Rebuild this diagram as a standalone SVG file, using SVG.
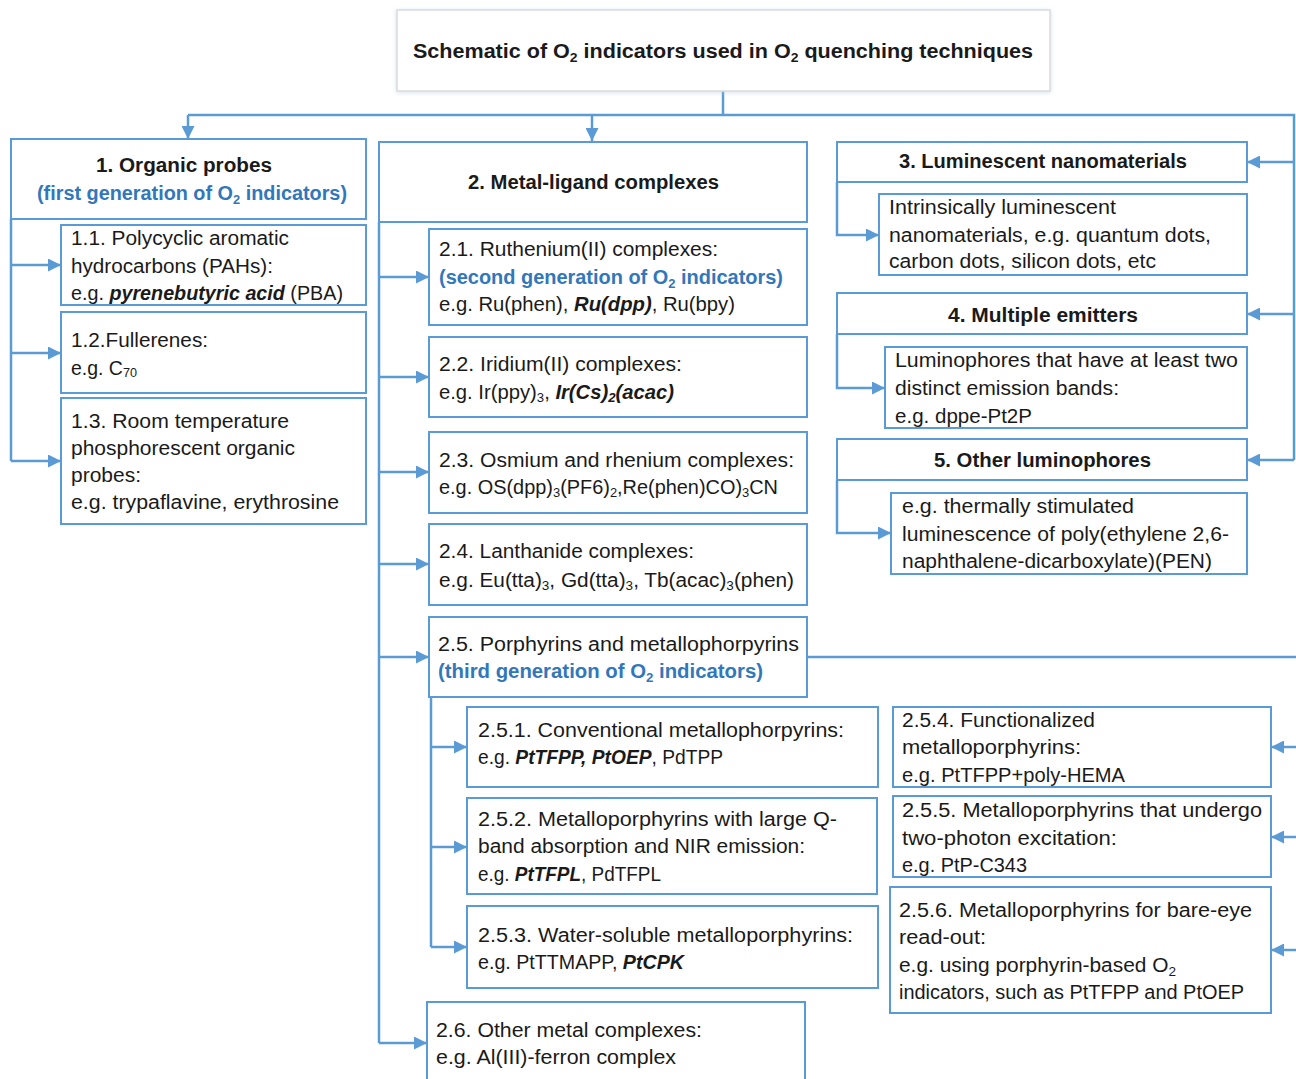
<svg xmlns="http://www.w3.org/2000/svg" width="1296" height="1079" viewBox="0 0 1296 1079">
<defs>
<style>
.t{font-family:"Liberation Sans",Arial,sans-serif;font-size:20px;fill:#1a1a1a}
.b{font-weight:bold}
.bl{font-weight:bold;fill:#3377bb}
.bi{font-weight:bold;font-style:italic}
.sub{font-size:13px}
.box{fill:#fff;stroke:#5b9bd5;stroke-width:2}
.ln{fill:none;stroke:#5b9bd5;stroke-width:2.5}
.ar{fill:none;stroke:#5b9bd5;stroke-width:2.5;marker-end:url(#ah)}
</style>
<marker id="ah" viewBox="0 0 12 12" refX="12" refY="6" markerWidth="13" markerHeight="13" markerUnits="userSpaceOnUse" orient="auto">
<path d="M0,0 L12,6 L0,12 z" fill="#5b9bd5"/>
</marker>
<filter id="sh" x="-5%" y="-20%" width="110%" height="140%">
<feDropShadow dx="0" dy="1" stdDeviation="2" flood-color="#b0c4de" flood-opacity="0.5"/>
</filter>
</defs>
<rect width="1296" height="1079" fill="#fff"/>

<g id="connectors">
<path class="ln" d="M723 91 V115 M188 115 H1294 V460"/>
<path class="ar" d="M188 115 V139"/>
<path class="ar" d="M592 115 V141"/>
<path class="ar" d="M1294 162 H1247"/>
<path class="ar" d="M1294 314 H1247"/>
<path class="ar" d="M1294 460 H1247"/>
<path class="ln" d="M11 219 V461"/>
<path class="ar" d="M11 265 H61"/>
<path class="ar" d="M11 353 H61"/>
<path class="ar" d="M11 461 H61"/>
<path class="ln" d="M379 222 V1043"/>
<path class="ar" d="M379 277 H429"/>
<path class="ar" d="M379 377 H429"/>
<path class="ar" d="M379 472 H429"/>
<path class="ar" d="M379 564 H429"/>
<path class="ar" d="M379 657 H429"/>
<path class="ar" d="M379 1043 H427"/>
<path class="ln" d="M431 697 V947"/>
<path class="ar" d="M431 747 H467"/>
<path class="ar" d="M431 847 H467"/>
<path class="ar" d="M431 947 H467"/>
<path class="ln" d="M807 657 H1299 V950"/>
<path class="ar" d="M1299 747 H1271"/>
<path class="ar" d="M1299 837 H1271"/>
<path class="ar" d="M1299 950 H1271"/>
<path class="ar" d="M837 182 V235 H879"/>
<path class="ar" d="M837 334 V388 H885"/>
<path class="ar" d="M837 480 V533 H891"/>
</g>

<g id="title">
<rect x="397" y="10" width="653" height="81" fill="#fff" stroke="#dcdcdc" stroke-width="1.5" filter="url(#sh)"/>
<text class="t b" x="413" y="58" textLength="620" lengthAdjust="spacingAndGlyphs">Schematic of O<tspan class="sub" dy="4">2</tspan><tspan dy="-4"> indicators used in O</tspan><tspan class="sub" dy="4">2</tspan><tspan dy="-4"> quenching techniques</tspan></text>
</g>

<g id="n1">
<rect class="box" x="11" y="139" width="355" height="80"/>
<text class="t b" x="96" y="172" textLength="176" lengthAdjust="spacingAndGlyphs">1. Organic probes</text>
<text class="t bl" x="37" y="200" textLength="310" lengthAdjust="spacingAndGlyphs">(first generation of O<tspan class="sub" dy="4">2</tspan><tspan dy="-4"> indicators)</tspan></text>
</g>
<g id="n1_1">
<rect class="box" x="61" y="225" width="305" height="80"/>
<text class="t" x="71" y="245" textLength="218" lengthAdjust="spacingAndGlyphs">1.1. Polycyclic aromatic</text>
<text class="t" x="71" y="273" textLength="202" lengthAdjust="spacingAndGlyphs">hydrocarbons (PAHs):</text>
<text class="t" x="71" y="300" textLength="272" lengthAdjust="spacingAndGlyphs">e.g. <tspan class="bi">pyrenebutyric acid</tspan> (PBA)</text>
</g>
<g id="n1_2">
<rect class="box" x="61" y="312" width="305" height="81"/>
<text class="t" x="71" y="347" textLength="137" lengthAdjust="spacingAndGlyphs">1.2.Fullerenes:</text>
<text class="t" x="71" y="375" textLength="66" lengthAdjust="spacingAndGlyphs">e.g. C<tspan class="sub" dy="2">70</tspan></text>
</g>
<g id="n1_3">
<rect class="box" x="61" y="398" width="305" height="126"/>
<text class="t" x="71" y="428" textLength="218" lengthAdjust="spacingAndGlyphs">1.3. Room temperature</text>
<text class="t" x="71" y="455" textLength="224" lengthAdjust="spacingAndGlyphs">phosphorescent organic</text>
<text class="t" x="71" y="482" textLength="70" lengthAdjust="spacingAndGlyphs">probes:</text>
<text class="t" x="71" y="509" textLength="268" lengthAdjust="spacingAndGlyphs">e.g. trypaflavine, erythrosine</text>
</g>

<g id="n2">
<rect class="box" x="379" y="142" width="428" height="80"/>
<text class="t b" x="468" y="189" textLength="251" lengthAdjust="spacingAndGlyphs">2. Metal-ligand complexes</text>
</g>
<g id="n2_1">
<rect class="box" x="429" y="229" width="378" height="96"/>
<text class="t" x="439" y="256" textLength="279" lengthAdjust="spacingAndGlyphs">2.1. Ruthenium(II) complexes:</text>
<text class="t bl" x="439" y="284" textLength="344" lengthAdjust="spacingAndGlyphs">(second generation of O<tspan class="sub" dy="4">2</tspan><tspan dy="-4"> indicators)</tspan></text>
<text class="t" x="439" y="311" textLength="296" lengthAdjust="spacingAndGlyphs">e.g. Ru(phen), <tspan class="bi">Ru(dpp)</tspan>, Ru(bpy)</text>
</g>
<g id="n2_2">
<rect class="box" x="429" y="337" width="378" height="80"/>
<text class="t" x="439" y="371" textLength="243" lengthAdjust="spacingAndGlyphs">2.2. Iridium(II) complexes:</text>
<text class="t" x="439" y="399" textLength="235" lengthAdjust="spacingAndGlyphs">e.g. Ir(ppy)<tspan class="sub" dy="3">3</tspan><tspan dy="-3">, </tspan><tspan class="bi">Ir(Cs)<tspan class="sub" dy="3">2</tspan><tspan dy="-3">(acac)</tspan></tspan></text>
</g>
<g id="n2_3">
<rect class="box" x="429" y="432" width="378" height="81"/>
<text class="t" x="439" y="467" textLength="355" lengthAdjust="spacingAndGlyphs">2.3. Osmium and rhenium complexes:</text>
<text class="t" x="439" y="494" textLength="339" lengthAdjust="spacingAndGlyphs">e.g. OS(dpp)<tspan class="sub" dy="3">3</tspan><tspan dy="-3">(PF6)</tspan><tspan class="sub" dy="3">2</tspan><tspan dy="-3">,Re(phen)CO)</tspan><tspan class="sub" dy="3">3</tspan><tspan dy="-3">CN</tspan></text>
</g>
<g id="n2_4">
<rect class="box" x="429" y="524" width="378" height="81"/>
<text class="t" x="439" y="558" textLength="255" lengthAdjust="spacingAndGlyphs">2.4. Lanthanide complexes:</text>
<text class="t" x="439" y="587" textLength="355" lengthAdjust="spacingAndGlyphs">e.g. Eu(tta)<tspan class="sub" dy="3">3</tspan><tspan dy="-3">, Gd(tta)</tspan><tspan class="sub" dy="3">3</tspan><tspan dy="-3">, Tb(acac)</tspan><tspan class="sub" dy="3">3</tspan><tspan dy="-3">(phen)</tspan></text>
</g>
<g id="n2_5">
<rect class="box" x="429" y="617" width="378" height="80"/>
<text class="t" x="438" y="651" textLength="361" lengthAdjust="spacingAndGlyphs">2.5. Porphyrins and metallophorpyrins</text>
<text class="t bl" x="438" y="678" textLength="325" lengthAdjust="spacingAndGlyphs">(third generation of O<tspan class="sub" dy="4">2</tspan><tspan dy="-4"> indicators)</tspan></text>
</g>
<g id="n2_5_1">
<rect class="box" x="467" y="707" width="411" height="80"/>
<text class="t" x="478" y="737" textLength="366" lengthAdjust="spacingAndGlyphs">2.5.1. Conventional metallophorpyrins:</text>
<text class="t" x="478" y="764" textLength="245" lengthAdjust="spacingAndGlyphs">e.g. <tspan class="bi">PtTFPP, PtOEP</tspan>, PdTPP</text>
</g>
<g id="n2_5_2">
<rect class="box" x="467" y="798" width="410" height="96"/>
<text class="t" x="478" y="826" textLength="359" lengthAdjust="spacingAndGlyphs">2.5.2. Metalloporphyrins with large Q-</text>
<text class="t" x="478" y="853" textLength="327" lengthAdjust="spacingAndGlyphs">band absorption and NIR emission:</text>
<text class="t" x="478" y="881" textLength="183" lengthAdjust="spacingAndGlyphs">e.g. <tspan class="bi">PtTFPL</tspan>, PdTFPL</text>
</g>
<g id="n2_5_3">
<rect class="box" x="467" y="906" width="411" height="82"/>
<text class="t" x="478" y="942" textLength="375" lengthAdjust="spacingAndGlyphs">2.5.3. Water-soluble metalloporphyrins:</text>
<text class="t" x="478" y="969" textLength="206" lengthAdjust="spacingAndGlyphs">e.g. PtTTMAPP, <tspan class="bi">PtCPK</tspan></text>
</g>
<g id="n2_5_4">
<rect class="box" x="893" y="707" width="378" height="80"/>
<text class="t" x="902" y="727" textLength="193" lengthAdjust="spacingAndGlyphs">2.5.4. Functionalized</text>
<text class="t" x="902" y="754" textLength="179" lengthAdjust="spacingAndGlyphs">metalloporphyrins:</text>
<text class="t" x="902" y="782" textLength="223" lengthAdjust="spacingAndGlyphs">e.g. PtTFPP+poly-HEMA</text>
</g>
<g id="n2_5_5">
<rect class="box" x="893" y="796" width="378" height="81"/>
<text class="t" x="902" y="817" textLength="360" lengthAdjust="spacingAndGlyphs">2.5.5. Metalloporphyrins that undergo</text>
<text class="t" x="902" y="845" textLength="215" lengthAdjust="spacingAndGlyphs">two-photon excitation:</text>
<text class="t" x="902" y="872" textLength="125" lengthAdjust="spacingAndGlyphs">e.g. PtP-C343</text>
</g>
<g id="n2_5_6">
<rect class="box" x="890" y="887" width="381" height="126"/>
<text class="t" x="899" y="917" textLength="353" lengthAdjust="spacingAndGlyphs">2.5.6. Metalloporphyrins for bare-eye</text>
<text class="t" x="899" y="944" textLength="87" lengthAdjust="spacingAndGlyphs">read-out:</text>
<text class="t" x="899" y="972" textLength="277" lengthAdjust="spacingAndGlyphs">e.g. using porphyrin-based O<tspan class="sub" dy="4">2</tspan></text>
<text class="t" x="899" y="999" textLength="345" lengthAdjust="spacingAndGlyphs">indicators, such as PtTFPP and PtOEP</text>
</g>
<g id="n2_6">
<rect class="box" x="427" y="1002" width="378" height="95"/>
<text class="t" x="436" y="1037" textLength="266" lengthAdjust="spacingAndGlyphs">2.6. Other metal complexes:</text>
<text class="t" x="436" y="1064" textLength="240" lengthAdjust="spacingAndGlyphs">e.g. Al(III)-ferron complex</text>
</g>

<g id="n3">
<rect class="box" x="837" y="142" width="410" height="40"/>
<text class="t b" x="899" y="168" textLength="288" lengthAdjust="spacingAndGlyphs">3. Luminescent nanomaterials</text>
</g>
<g id="n3_1">
<rect class="box" x="879" y="194" width="368" height="81"/>
<text class="t" x="889" y="214" textLength="227" lengthAdjust="spacingAndGlyphs">Intrinsically luminescent</text>
<text class="t" x="889" y="242" textLength="322" lengthAdjust="spacingAndGlyphs">nanomaterials, e.g. quantum dots,</text>
<text class="t" x="889" y="268" textLength="267" lengthAdjust="spacingAndGlyphs">carbon dots, silicon dots, etc</text>
</g>
<g id="n4">
<rect class="box" x="837" y="293" width="410" height="41"/>
<text class="t b" x="948" y="322" textLength="190" lengthAdjust="spacingAndGlyphs">4. Multiple emitters</text>
</g>
<g id="n4_1">
<rect class="box" x="885" y="347" width="362" height="81"/>
<text class="t" x="895" y="367" textLength="343" lengthAdjust="spacingAndGlyphs">Luminophores that have at least two</text>
<text class="t" x="895" y="395" textLength="224" lengthAdjust="spacingAndGlyphs">distinct emission bands:</text>
<text class="t" x="895" y="423" textLength="137" lengthAdjust="spacingAndGlyphs">e.g. dppe-Pt2P</text>
</g>
<g id="n5">
<rect class="box" x="837" y="439" width="410" height="41"/>
<text class="t b" x="934" y="467" textLength="217" lengthAdjust="spacingAndGlyphs">5. Other luminophores</text>
</g>
<g id="n5_1">
<rect class="box" x="891" y="493" width="356" height="81"/>
<text class="t" x="902" y="513" textLength="232" lengthAdjust="spacingAndGlyphs">e.g. thermally stimulated</text>
<text class="t" x="902" y="541" textLength="327" lengthAdjust="spacingAndGlyphs">luminescence of poly(ethylene 2,6-</text>
<text class="t" x="902" y="568" textLength="310" lengthAdjust="spacingAndGlyphs">naphthalene-dicarboxylate)(PEN)</text>
</g>
</svg>
